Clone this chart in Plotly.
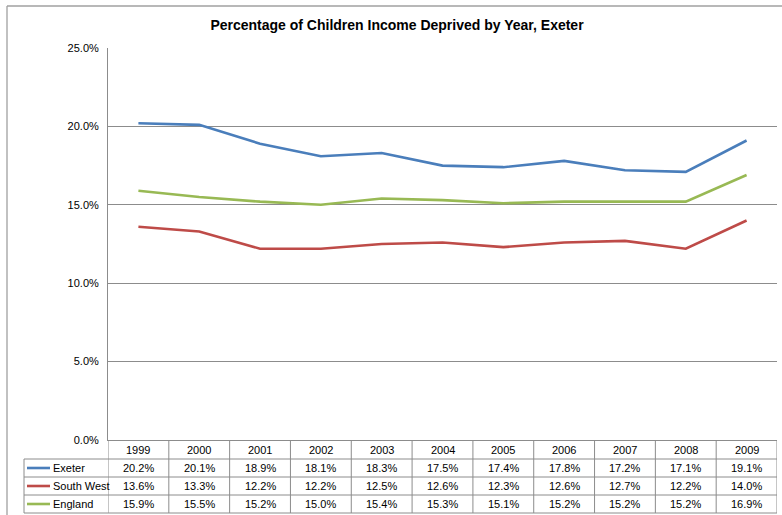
import plotly.graph_objects as go

years = [1999, 2000, 2001, 2002, 2003, 2004, 2005, 2006, 2007, 2008, 2009]
exeter = [20.2, 20.1, 18.9, 18.1, 18.3, 17.5, 17.4, 17.8, 17.2, 17.1, 19.1]
south_west = [13.6, 13.3, 12.2, 12.2, 12.5, 12.6, 12.3, 12.6, 12.7, 12.2, 14.0]
england = [15.9, 15.5, 15.2, 15.0, 15.4, 15.3, 15.1, 15.2, 15.2, 15.2, 16.9]

series_names = ["Exeter", "South West", "England"]
series_values = [exeter, south_west, england]
colors = ["#4A7EBB", "#BE4B48", "#98B954"]

W, H = 782, 515
FONT = "Liberation Sans Narrow, Liberation Sans, Arial, sans-serif"
GRID = "#8c8c8c"


def px(x):
    return x / W


def py(y):
    return 1 - y / H


# plot area in page pixels
left, right, top, bottom = 108, 777, 48, 440
# table row boundaries (pixels)
rows = [440, 459, 477, 495, 513]
legend_left = 24

xs = list(range(len(years)))

fig = go.Figure()
for name, vals, col in zip(series_names, series_values, colors):
    fig.add_trace(
        go.Scatter(
            x=xs,
            y=[v / 100 for v in vals],
            mode="lines",
            name=name,
            line=dict(color=col, width=2.6),
        )
    )

shapes = []
annotations = []

# outer chart border
shapes.append(dict(type="line", xref="paper", yref="paper",
                   x0=px(7), x1=1.01, y0=py(6), y1=py(6),
                   line=dict(color="#a0a0a0", width=1.3)))
shapes.append(dict(type="line", xref="paper", yref="paper",
                   x0=px(7), x1=px(7), y0=py(6), y1=-0.01,
                   line=dict(color="#a0a0a0", width=1.3)))

# vertical table lines (column borders)
for i in range(len(years) + 1):
    shapes.append(dict(type="line", xref="x", yref="paper",
                       x0=i - 0.5, x1=i - 0.5, y0=py(rows[0]), y1=py(rows[-1]),
                       line=dict(color=GRID, width=1)))
# legend column left border
shapes.append(dict(type="line", xref="paper", yref="paper",
                   x0=px(legend_left), x1=px(legend_left), y0=py(rows[1]), y1=py(rows[-1]),
                   line=dict(color=GRID, width=1)))
# horizontal table lines
for r in rows[1:]:
    shapes.append(dict(type="line", xref="paper", yref="paper",
                       x0=px(legend_left), x1=px(right), y0=py(r), y1=py(r),
                       line=dict(color=GRID, width=1)))

cell_font = dict(size=11, color="#000000", family=FONT)

# header years
yc = (rows[0] + rows[1]) / 2
for i, yr in enumerate(years):
    annotations.append(dict(x=i, y=py(yc), xref="x", yref="paper", text=str(yr),
                            xanchor="center", yanchor="middle",
                            showarrow=False, font=cell_font))

# series rows
for k, (name, vals, col) in enumerate(zip(series_names, series_values, colors)):
    yc = (rows[k + 1] + rows[k + 2]) / 2
    shapes.append(dict(type="line", xref="paper", yref="paper",
                       x0=px(27), x1=px(50), y0=py(yc), y1=py(yc),
                       line=dict(color=col, width=2.6)))
    annotations.append(dict(x=px(51), y=py(yc), xref="paper", yref="paper", text=name,
                            xanchor="left", yanchor="middle", showarrow=False,
                            font=cell_font))
    for i, v in enumerate(vals):
        annotations.append(dict(x=i, y=py(yc), xref="x", yref="paper", text=f"{v:.1f}%",
                                xanchor="center", yanchor="middle",
                                showarrow=False, font=cell_font))

fig.update_layout(
    width=W,
    height=H,
    margin=dict(l=0, r=0, t=0, b=0, pad=0, autoexpand=False),
    paper_bgcolor="white",
    plot_bgcolor="white",
    showlegend=False,
    title=dict(
        text="<b>Percentage of Children Income Deprived by Year, Exeter</b>",
        x=397 / W, xanchor="center", y=py(25), yanchor="middle",
        font=dict(size=14, color="#000000", family=FONT),
    ),
    font=dict(family=FONT, size=11, color="#000000"),
    shapes=shapes,
    annotations=annotations,
)
fig.update_xaxes(
    domain=[px(left), px(right)],
    range=[-0.5, len(years) - 0.5],
    showticklabels=False,
    showgrid=False,
    zeroline=False,
    showline=True,
    linecolor=GRID,
    linewidth=1,
    automargin=False,
)
fig.update_yaxes(
    domain=[py(bottom), py(top)],
    range=[0, 0.25],
    dtick=0.05,
    tickformat=".1%",
    showgrid=True,
    gridcolor=GRID,
    gridwidth=1,
    zeroline=False,
    showline=True,
    linecolor=GRID,
    linewidth=1,
    ticks="",
    ticklabelstandoff=6,
    tickfont=dict(size=11, color="#000000", family=FONT),
    automargin=False,
)

fig.write_html(
    "out.html",
    config={"displayModeBar": False},
    post_script="document.body.style.margin='0';document.body.style.overflow='hidden';",
)
